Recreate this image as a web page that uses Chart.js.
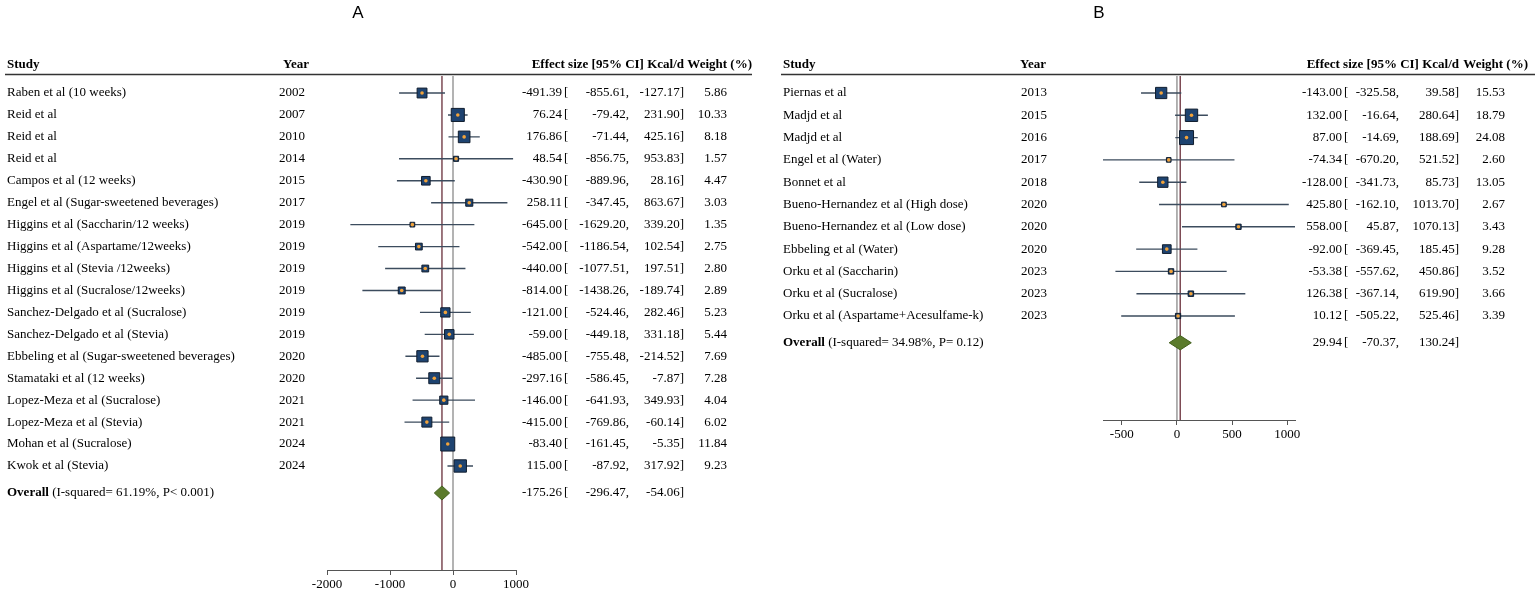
<!DOCTYPE html>
<html>
<head>
<meta charset="utf-8">
<script src="https://cdn.jsdelivr.net/npm/chart.js@4.4.0/dist/chart.umd.min.js"></script>
<style>
  html, body { margin: 0; padding: 0; background: #fff; }
  #wrap { position: relative; width: 1535px; height: 593px; }
  canvas { position: absolute; top: 0; }
  #cA { left: 0; width: 760px; height: 593px; }
  #cB { left: 760px; width: 775px; height: 593px; }
</style>
</head>
<body>
<div id="wrap">
  <canvas id="cA" width="760" height="593"></canvas>
  <canvas id="cB" width="775" height="593"></canvas>
</div>
<script>
// Panel A
const studiesA = ['Raben et al (10 weeks)', 'Reid et al', 'Reid et al', 'Reid et al', 'Campos et al (12 weeks)',
  'Engel et al (Sugar-sweetened beverages)', 'Higgins et al (Saccharin/12 weeks)', 'Higgins et al (Aspartame/12weeks)',
  'Higgins et al (Stevia /12weeks)', 'Higgins et al (Sucralose/12weeks)', 'Sanchez-Delgado et al (Sucralose)',
  'Sanchez-Delgado et al (Stevia)', 'Ebbeling et al (Sugar-sweetened beverages)', 'Stamataki et al (12 weeks)',
  'Lopez-Meza et al (Sucralose)', 'Lopez-Meza et al (Stevia)', 'Mohan et al (Sucralose)', 'Kwok et al (Stevia)'];
const yearsA = [2002, 2007, 2010, 2014, 2015, 2017, 2019, 2019, 2019, 2019, 2019, 2019, 2020, 2020, 2021, 2021, 2024, 2024];
const effectA = [-491.39, 76.24, 176.86, 48.54, -430.90, 258.11, -645.00, -542.00, -440.00, -814.00, -121.00, -59.00, -485.00, -297.16, -146.00, -415.00, -83.40, 115.00];
const lowerA = [-855.61, -79.42, -71.44, -856.75, -889.96, -347.45, -1629.20, -1186.54, -1077.51, -1438.26, -524.46, -449.18, -755.48, -586.45, -641.93, -769.86, -161.45, -87.92];
const upperA = [-127.17, 231.90, 425.16, 953.83, 28.16, 863.67, 339.20, 102.54, 197.51, -189.74, 282.46, 331.18, -214.52, -7.87, 349.93, -60.14, -5.35, 317.92];
const weightA = [5.86, 10.33, 8.18, 1.57, 4.47, 3.03, 1.35, 2.75, 2.80, 2.89, 5.23, 5.44, 7.69, 7.28, 4.04, 6.02, 11.84, 9.23];
const overallA = [-175.26, -296.47, -54.06];
const overallTextA = '(I-squared= 61.19%, P< 0.001)';
const ticksA = [-2000, -1000, 0, 1000];

// Panel B
const studiesB = ['Piernas et al', 'Madjd et al', 'Madjd et al', 'Engel et al (Water)', 'Bonnet et al',
  'Bueno-Hernandez et al (High dose)', 'Bueno-Hernandez et al (Low dose)', 'Ebbeling et al (Water)',
  'Orku et al (Saccharin)', 'Orku et al (Sucralose)', 'Orku et al (Aspartame+Acesulfame-k)'];
const yearsB = [2013, 2015, 2016, 2017, 2018, 2020, 2020, 2020, 2023, 2023, 2023];
const effectB = [-143.00, 132.00, 87.00, -74.34, -128.00, 425.80, 558.00, -92.00, -53.38, 126.38, 10.12];
const lowerB = [-325.58, -16.64, -14.69, -670.20, -341.73, -162.10, 45.87, -369.45, -557.62, -367.14, -505.22];
const upperB = [39.58, 280.64, 188.69, 521.52, 85.73, 1013.70, 1070.13, 185.45, 450.86, 619.90, 525.46];
const weightB = [15.53, 18.79, 24.08, 2.60, 13.05, 2.67, 3.43, 9.28, 3.52, 3.66, 3.39];
const overallB = [29.94, -70.37, 130.24];
const overallTextB = '(I-squared= 34.98%, P= 0.12)';
const ticksB = [-500, 0, 500, 1000];

const SERIF = '"Liberation Serif", "Times New Roman", serif';
const FS = 13;

function buildPanel(id, p, L) {
  const wMax = Math.max(...p.weight);
  const ci = [];
  p.effect.forEach((e, i) => {
    ci.push({x: p.lower[i], y: i}, {x: p.upper[i], y: i}, {x: null, y: null});
  });
  const pts = p.effect.map((e, i) => ({x: e, y: i}));
  const [ov, ovLo, ovHi] = p.overall;
  const r = p.overallRow, h = 0.32;
  const diamond = [{x: ovLo, y: r}, {x: ov, y: r - h}, {x: ovHi, y: r}, {x: ov, y: r + h}, {x: ovLo, y: r}];

  const textPlugin = {
    id: 'forestText',
    afterDraw(chart) {
      const ctx = chart.ctx, ys = chart.scales.y;
      ctx.save();
      // panel letter
      ctx.fillStyle = '#000';
      ctx.font = '17px "Liberation Sans", Arial, sans-serif';
      ctx.textAlign = 'center';
      ctx.textBaseline = 'middle';
      ctx.fillText(p.title, L.title, 13);
      // header
      ctx.font = 'bold ' + FS + 'px ' + SERIF;
      ctx.textAlign = 'left';
      ctx.fillText('Study', L.study, 65);
      ctx.fillText('Year', L.yearHead, 65);
      ctx.textAlign = 'right';
      ctx.fillText('Effect size [95% CI] Kcal/d', L.upper, 65);
      ctx.fillText('Weight (%)', L.weightHead, 65);
      ctx.strokeStyle = '#333';
      ctx.lineWidth = 1.6;
      ctx.beginPath();
      ctx.moveTo(L.ruleL, 74.5);
      ctx.lineTo(L.ruleR, 74.5);
      ctx.stroke();
      // rows
      ctx.font = FS + 'px ' + SERIF;
      const row = (y, eff, lo, hi) => {
        ctx.textAlign = 'right';
        ctx.fillText(eff.toFixed(2), L.effect, y);
        ctx.textAlign = 'left';
        ctx.fillText('[', L.effect + 2, y);
        ctx.textAlign = 'right';
        ctx.fillText(lo.toFixed(2) + ',', L.lower, y);
        ctx.fillText(hi.toFixed(2) + ']', L.upper, y);
      };
      p.studies.forEach((s, i) => {
        const y = ys.getPixelForValue(i);
        ctx.textAlign = 'left';
        ctx.fillText(s, L.study, y);
        ctx.fillText(String(p.years[i]), L.year, y);
        row(y, p.effect[i], p.lower[i], p.upper[i]);
        ctx.textAlign = 'right';
        ctx.fillText(p.weight[i].toFixed(2), L.weight, y);
      });
      // overall
      const yo = ys.getPixelForValue(p.overallRow);
      ctx.textAlign = 'left';
      ctx.font = 'bold ' + FS + 'px ' + SERIF;
      ctx.fillText('Overall', L.study, yo);
      const w = ctx.measureText('Overall ').width;
      ctx.font = FS + 'px ' + SERIF;
      ctx.fillText(p.overallText, L.study + w, yo);
      row(yo, ov, ovLo, ovHi);
      ctx.restore();
    }
  };

  return new Chart(document.getElementById(id), {
    type: 'scatter',
    data: {
      datasets: [
        {
          data: pts,
          pointStyle: 'circle',
          pointRadius: 1.8,
          backgroundColor: '#f2a33a',
          borderWidth: 0,
          clip: false
        },
        {
          data: pts,
          pointStyle: 'rect',
          pointRadius: p.weight.map(w => 0.7071 * 14 * Math.sqrt(w / wMax)),
          backgroundColor: '#1e4370',
          borderColor: '#101d2e',
          borderWidth: 1,
          clip: false
        },
        {
          type: 'line',
          data: diamond,
          borderColor: '#44611f',
          borderWidth: 1,
          backgroundColor: '#5b7b2c',
          fill: 'shape',
          pointRadius: 0,
          tension: 0
        },
        {
          type: 'line',
          data: ci,
          borderColor: '#3c4c5e',
          borderWidth: 1.4,
          pointRadius: 0,
          spanGaps: false,
          fill: false,
          clip: false
        },
        {
          type: 'line',
          data: [{x: ov, y: p.yMin}, {x: ov, y: p.yMax}],
          borderColor: '#7d4b55',
          borderWidth: 1.5,
          pointRadius: 0,
          fill: false
        },
        {
          type: 'line',
          data: [{x: 0, y: p.yMin}, {x: 0, y: p.yMax}],
          borderColor: '#9a9a9a',
          borderWidth: 1.5,
          pointRadius: 0,
          fill: false
        }
      ]
    },
    options: {
      responsive: false,
      animation: false,
      events: [],
      layout: { padding: p.padding },
      plugins: { legend: { display: false }, tooltip: { enabled: false } },
      scales: {
        x: {
          type: 'linear',
          min: p.xMin,
          max: p.xMax,
          afterFit: s => { s.height = 23; },
          afterBuildTicks: s => { s.ticks = p.ticks.map(v => ({value: v})); },
          ticks: {
            color: '#000',
            font: { family: SERIF, size: FS },
            padding: 2,
            maxRotation: 0,
            autoSkip: false,
            callback: v => String(v)
          },
          grid: { drawOnChartArea: false, drawTicks: true, tickLength: 5, color: '#555', lineWidth: 1 },
          border: { display: true, color: '#555', width: 1 }
        },
        y: {
          type: 'linear',
          display: false,
          reverse: true,
          min: p.yMin,
          max: p.yMax
        }
      }
    },
    plugins: [textPlugin]
  });
}

buildPanel('cA', {
  title: 'A',
  studies: studiesA, years: yearsA, effect: effectA, lower: lowerA, upper: upperA, weight: weightA,
  overall: overallA, overallText: overallTextA, overallRow: 18.23, ticks: ticksA,
  xMin: -2000, xMax: 1000, yMin: -0.775, yMax: 21.741,
  padding: { left: 327, right: 244, top: 76, bottom: 0 }
}, {
  title: 358, study: 7, year: 279, yearHead: 283, effect: 562, lower: 629, upper: 684,
  weight: 727, weightHead: 752, ruleL: 5, ruleR: 752
});

buildPanel('cB', {
  title: 'B',
  studies: studiesB, years: yearsB, effect: effectB, lower: lowerB, upper: upperB, weight: weightB,
  overall: overallB, overallText: overallTextB, overallRow: 11.2, ticks: ticksB,
  xMin: -670.20, xMax: 1070.13, yMin: -0.762, yMax: 14.664,
  padding: { left: 343, right: 240, top: 76, bottom: 150 }
}, {
  title: 339, study: 23, year: 261, yearHead: 260, effect: 582, lower: 639, upper: 699,
  weight: 745, weightHead: 768, ruleL: 21, ruleR: 775
});
</script>
</body>
</html>
